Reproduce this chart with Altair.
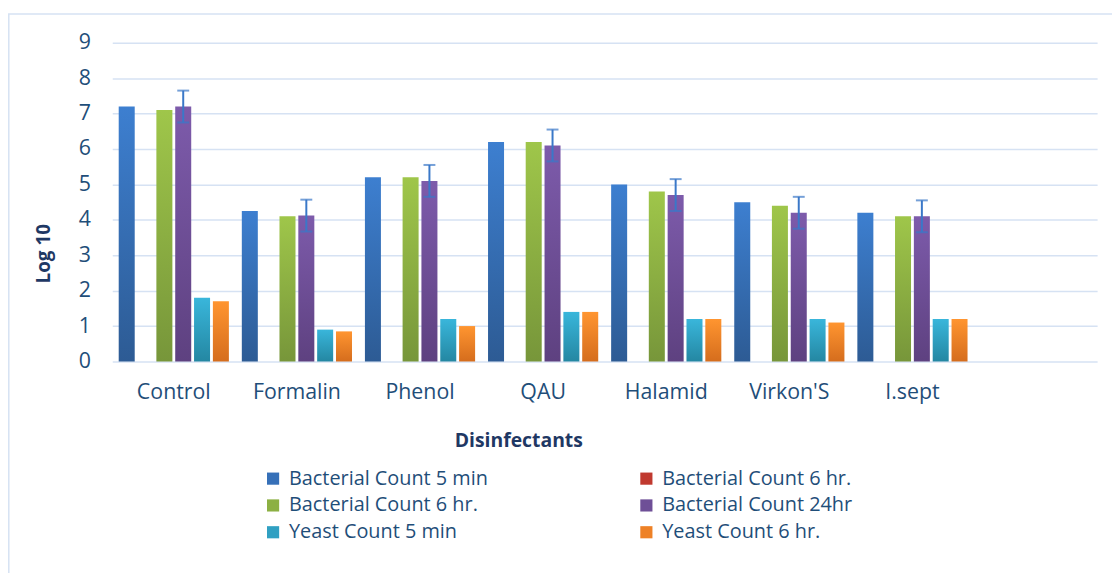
import altair as alt
import pandas as pd

categories = ["Control", "Formalin", "Phenol", "QAU", "Halamid", "Virkon'S", "I.sept", " "]
series = ["Bacterial Count 5 min", "Bacterial Count 6 hr. ", "Bacterial Count 6 hr.",
          "Bacterial Count 24hr", "Yeast Count 5 min", "Yeast Count 6 hr."]

bact_5min = [7.2, 4.25, 5.2, 6.2, 5.0, 4.5, 4.2]
bact_6hr_red = []  # empty series in the original
bact_6hr = [7.1, 4.1, 5.2, 6.2, 4.8, 4.4, 4.1]
bact_24hr = [7.2, 4.12, 5.1, 6.1, 4.7, 4.2, 4.1]
bact_24hr_err = [0.45, 0.45, 0.45, 0.45, 0.45, 0.45, 0.45]
yeast_5min = [1.8, 0.9, 1.2, 1.4, 1.2, 1.2, 1.2]
yeast_6hr = [1.7, 0.85, 1.0, 1.4, 1.2, 1.1, 1.2]

top_colors = ["#3d7fd0", "#d04540", "#9fc64a", "#7d5bab", "#39b6db", "#ff9530"]
bot_colors = ["#2d5b94", "#a02a28", "#77963a", "#5e4180", "#2487a2", "#d56d1d"]
legend_colors = ["#3670b8", "#c0392f", "#8cb043", "#6e4f97", "#30a0c2", "#ee8126"]

TXT = "#1F4E79"
FONT = "Open Sans"

value_lists = [bact_5min, bact_6hr_red, bact_6hr, bact_24hr, yeast_5min, yeast_6hr]

x_enc = alt.X("cat:N", scale=alt.Scale(domain=categories, paddingInner=0.105, paddingOuter=0.0525),
              sort=categories,
              axis=alt.Axis(title="Disinfectants", labelFontSize=21.5, labelColor=TXT, labelFont=FONT,
                            labelPadding=20, ticks=False, domain=False, grid=False, labelAngle=0,
                            titleFontSize=19.5, titleFont=FONT, titleFontWeight="bold", titleColor="#1F3864",
                            titleX=409, titleY=86, titleAlign="center", titleBaseline="alphabetic"))
xoff = alt.XOffset("ser:N", scale=alt.Scale(domain=series, paddingInner=0.15, paddingOuter=0))
y_scale = alt.Scale(domain=[0, 9], nice=False)
y_axis = alt.Axis(title="Log 10", values=list(range(10)), labelFontSize=21.5, labelColor=TXT, labelFont=FONT,
                  labelPadding=22, ticks=False, domain=False, gridColor="#d6e2f3", gridWidth=1.6,
                  titleFontSize=19, titleFont=FONT, titleFontWeight="bold", titleColor="#1F3864",
                  titleAngle=-90, titleX=-63, titleY=212, titleAlign="center", titleBaseline="alphabetic")

layers = []
# legend carrier: zero-height bars
leg_df = pd.DataFrame({"cat": [categories[0]] * len(series), "ser": series, "v": [0.0] * len(series)})
layers.append(
    alt.Chart(leg_df).mark_bar().encode(
        x=x_enc, xOffset=xoff,
        y=alt.Y("v:Q", scale=y_scale, axis=y_axis),
        color=alt.Color("ser:N", scale=alt.Scale(domain=series, range=legend_colors),
                        legend=alt.Legend(title=None, orient="none", legendX=152, legendY=429, columns=2,
                                          symbolType="square", symbolSize=150, symbolStrokeWidth=0,
                                          labelFontSize=20, labelFont=FONT, labelColor=TXT,
                                          labelOffset=6, rowPadding=7, columnPadding=149,
                                          labelLimit=400, direction="horizontal"))
    )
)

for i, vals in enumerate(value_lists):
    if not vals:
        continue
    df = pd.DataFrame({"cat": categories[:len(vals)], "ser": [series[i]] * len(vals), "v": vals})
    grad = alt.Gradient(gradient="linear", x1=0, x2=0, y1=0, y2=1,
                        stops=[alt.GradientStop(color=top_colors[i], offset=0),
                               alt.GradientStop(color=bot_colors[i], offset=1)])
    layers.append(
        alt.Chart(df).mark_bar(color=grad).encode(
            x=x_enc, xOffset=xoff, y=alt.Y("v:Q", scale=y_scale, axis=y_axis)
        )
    )

err_df = pd.DataFrame({
    "cat": categories[:len(bact_24hr)],
    "ser": [series[3]] * len(bact_24hr),
    "lo": [v - e for v, e in zip(bact_24hr, bact_24hr_err)],
    "hi": [v + e for v, e in zip(bact_24hr, bact_24hr_err)],
})
layers.append(alt.Chart(err_df).mark_rule(color="#3a78c8", strokeWidth=2).encode(
    x=x_enc, xOffset=xoff, y=alt.Y("lo:Q", scale=y_scale, axis=y_axis), y2="hi:Q"))
layers.append(alt.Chart(err_df).mark_tick(color="#3a78c8", thickness=2, size=12).encode(
    x=x_enc, xOffset=xoff, y=alt.Y("lo:Q", scale=y_scale, axis=y_axis)))
layers.append(alt.Chart(err_df).mark_tick(color="#3a78c8", thickness=2, size=12).encode(
    x=x_enc, xOffset=xoff, y=alt.Y("hi:Q", scale=y_scale, axis=y_axis)))

# chart-area border
border = alt.Chart(pd.DataFrame({"a": [0]})).mark_rect(fill=None, stroke="#d6e2f3", strokeWidth=1.5).encode(
    x=alt.value(-104.2), x2=alt.value(1030), y=alt.value(-29), y2=alt.value(600))
layers.append(border)

chart = alt.layer(*layers).properties(
    width=992, height=321,
    autosize=alt.AutoSizeParams(type="none"),
    padding={"left": 105, "top": 33, "right": 15, "bottom": 211},
).configure(background="white").configure_view(stroke=None)

chart.save("out.html", embed_options={"renderer": "svg", "actions": False})
